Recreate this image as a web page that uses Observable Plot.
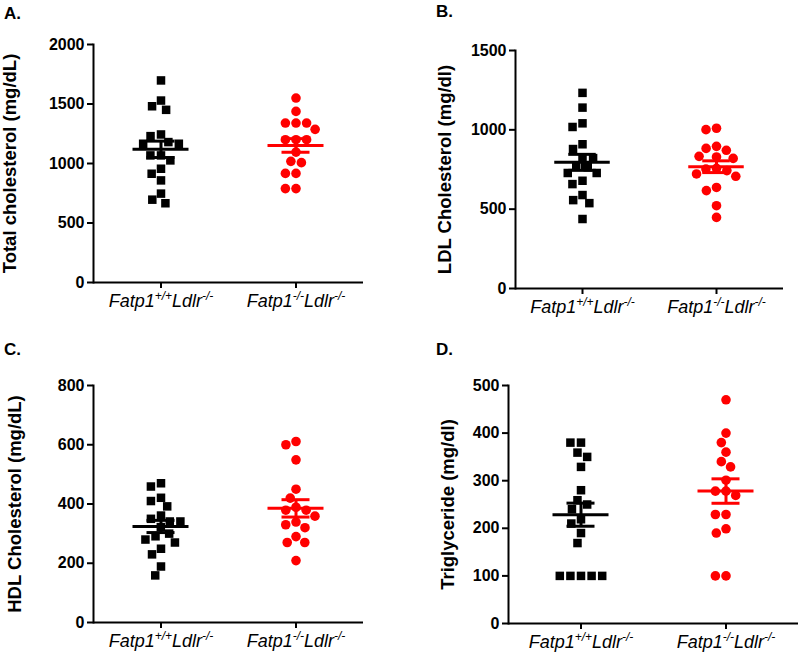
<!DOCTYPE html>
<html><head><meta charset="utf-8">
<script src="https://cdn.jsdelivr.net/npm/d3@7"></script>
<script src="https://cdn.jsdelivr.net/npm/@observablehq/plot@0.6"></script>
<style>
body{margin:0;background:#fff;}
#chart{position:relative;width:800px;height:653px;font-family:"Liberation Sans",Arial,sans-serif;color:#000;}
.panel{position:absolute;}
.letter{position:absolute;font-weight:bold;font-size:17px;line-height:1;}
</style></head><body><div id="chart"></div>
<script>
const groups = ["Fatp1+/+Ldlr-/-", "Fatp1-/-Ldlr-/-"];
const groupColors = ["#000000", "#ff0000"];
const groupSymbols = ["square", "circle"];

// A. Total cholesterol (mg/dL)
const totalWT = [1698, 1529, 1481, 1451, 1244, 1230, 1180, 1166, 1166, 1068, 1068, 1026, 956, 914, 858, 747, 696, 666];
const totalKO = [1550, 1438, 1340, 1340, 1340, 1287, 1200, 1200, 1200, 1096, 1018, 1007, 917, 917, 789, 789];
const totalTicks = [0, 500, 1000, 1500, 2000];

// B. LDL Cholesterol (mg/dl)
const ldlWT = [1233, 1140, 1041, 1018, 909, 879, 822, 822, 768, 764, 728, 728, 679, 658, 589, 557, 538, 438];
const ldlKO = [1010, 1001, 896, 883, 871, 833, 829, 820, 757, 753, 743, 722, 707, 637, 617, 522, 448];
const ldlTicks = [0, 500, 1000, 1500];

// C. HDL Cholesterol (mg/dL)
const hdlWT = [470, 459, 421, 410, 392, 361, 350, 341, 341, 322, 300, 291, 280, 270, 249, 230, 189, 159];
const hdlKO = [611, 600, 549, 450, 420, 389, 379, 379, 359, 339, 330, 320, 290, 270, 270, 209];
const hdlTicks = [0, 200, 400, 600, 800];

// D. Triglyceride (mg/dl)
const tgWT = [380, 380, 359, 350, 329, 280, 259, 250, 240, 219, 210, 190, 169, 100, 100, 100, 100, 100];
const tgKO = [470, 400, 380, 360, 340, 329, 301, 278, 278, 269, 229, 229, 199, 190, 100, 100];
const tgTicks = [0, 100, 200, 300, 400, 500];

const panels = [
  {letter: "A.", title: "Total cholesterol (mg/dL)", wt: totalWT, ko: totalKO, ticks: totalTicks,
   left: 0, top: 0, mt: 44, mb: 43, ml: 93, mr: 37, labelOffset: 91, lx: 4, ly: 5},
  {letter: "B.", title: "LDL Cholesterol (mg/dl)", wt: ldlWT, ko: ldlKO, ticks: ldlTicks,
   left: 400, top: 0, mt: 50, mb: 37, ml: 114, mr: 17, labelOffset: 78, lx: 436, ly: 3},
  {letter: "C.", title: "HDL Cholesterol (mg/dL)", wt: hdlWT, ko: hdlKO, ticks: hdlTicks,
   left: 0, top: 328, mt: 57, mb: 31, ml: 93, mr: 37, labelOffset: 86, lx: 4, ly: 341},
  {letter: "D.", title: "Triglyceride (mg/dl)", wt: tgWT, ko: tgKO, ticks: tgTicks,
   left: 400, top: 328, mt: 57, mb: 30, ml: 108, mr: 2, labelOffset: 68, lx: 436, ly: 341}
];

const root = document.getElementById("chart");

function postProcess(svg) {
  svg.querySelectorAll('g[aria-label="fx-axis tick label"] text').forEach(el => {
    const s = el.textContent;
    const parts = s.split(/([+-]\/[+-])/).filter(Boolean);
    el.textContent = "";
    let raised = false;
    for (const part of parts) {
      const t = document.createElementNS("http://www.w3.org/2000/svg", "tspan");
      const sup = /^[+-]\/[+-]$/.test(part);
      t.textContent = part;
      if (sup) {
        t.setAttribute("font-size", "12");
        if (!raised) t.setAttribute("dy", "-7");
        raised = true;
      } else if (raised) {
        t.setAttribute("dy", "7");
        raised = false;
      }
      el.appendChild(t);
    }
  });
  svg.querySelectorAll('g[aria-label="y-axis tick label"]').forEach(g => {
    g.setAttribute("font-weight", "bold");
    g.querySelectorAll("text").forEach(t => t.setAttribute("font-weight", "bold"));
  });
  svg.querySelectorAll('g[aria-label="y-axis label"] text').forEach(el => {
    el.setAttribute("font-size", "18.5");
    el.setAttribute("font-weight", "bold");
  });
}

for (const p of panels) {
  const rows = [
    ...p.wt.map(v => ({group: groups[0], value: v})),
    ...p.ko.map(v => ({group: groups[1], value: v}))
  ];
  const stats = groups.map(g => {
    const vs = rows.filter(d => d.group === g).map(d => d.value);
    const m = d3.mean(vs), se = d3.deviation(vs) / Math.sqrt(vs.length);
    return {group: g, mean: m, lo: m - se, hi: m + se};
  });
  const band = (400 - p.ml - p.mr) / 2;
  const meanInset = (band - 56) / 2;
  const capInset = (band - 28) / 2;
  const chart = Plot.plot({
    width: 400, height: 325,
    marginTop: p.mt, marginBottom: p.mb, marginLeft: p.ml, marginRight: p.mr,
    style: {fontFamily: "'Liberation Sans', Arial, sans-serif", fontSize: "16px", color: "#000", background: "transparent", overflow: "visible"},
    fx: {domain: groups, padding: 0, label: null},
    x: {domain: [-1, 1], axis: null},
    y: {domain: [0, d3.max(p.ticks)], axis: null},
    color: {domain: groups, range: groupColors},
    symbol: {domain: groups, range: groupSymbols},
    marks: [
      Plot.dot(rows, Plot.dodgeX("middle", {fx: "group", y: "value", symbol: "group", fill: "group", r: 4.8, padding: 4.5})),
      Plot.tickY(stats, {fx: "group", y: "mean", stroke: "group", strokeWidth: 3, inset: meanInset}),
      Plot.ruleX(stats, {fx: "group", x: () => 0, y1: "lo", y2: "hi", stroke: "group", strokeWidth: 3}),
      Plot.tickY(stats, {fx: "group", y: "lo", stroke: "group", strokeWidth: 3, inset: capInset}),
      Plot.tickY(stats, {fx: "group", y: "hi", stroke: "group", strokeWidth: 3, inset: capInset}),
      Plot.frame({anchor: "left", facetAnchor: "left", strokeWidth: 2}),
      Plot.ruleY([0], {strokeWidth: 2}),
      Plot.axisY({ticks: p.ticks, tickFormat: d3.format("d"), tickSize: 6, tickPadding: 3, strokeWidth: 2, fontWeight: "bold", fontSize: 16,
        label: p.title, labelAnchor: "center", labelArrow: "none", labelOffset: p.labelOffset}),
      Plot.axisFx({anchor: "bottom", tickSize: 6, tickPadding: 6, strokeWidth: 2, label: null, fontStyle: "italic", fontSize: 18})
    ]
  });
  chart.classList.add("panel");
  chart.style.left = p.left + "px";
  chart.style.top = p.top + "px";
  postProcess(chart);
  root.appendChild(chart);
  const L = document.createElement("div");
  L.className = "letter";
  L.textContent = p.letter;
  L.style.left = p.lx + "px";
  L.style.top = p.ly + "px";
  root.appendChild(L);
}
</script></body></html>
